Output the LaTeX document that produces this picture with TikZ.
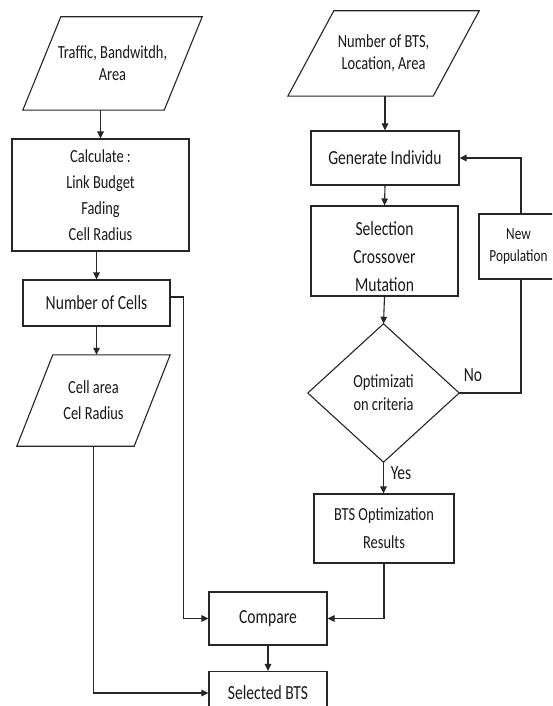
\documentclass[tikz,border=0pt]{standalone}
\usepackage{fontspec}
\newfontfamily\diafont[FakeStretch=0.78]{Carlito}
\usetikzlibrary{arrows.meta,calc}
\tikzset{
  line/.style={draw=black!85, line width=1.1pt},
  arr/.style={line, -{Triangle[length=7pt,width=6.5pt]}},
  bigtxt/.style={font=\diafont\fontsize{20}{28}\selectfont},
  smalltxt/.style={font=\diafont\fontsize{18.5}{26}\selectfont},
  boxnode/.style={line, rectangle, inner sep=0pt, align=center, text=black!90},
  ghost/.style={rectangle, inner sep=0pt, align=center, text=black!90},
}
\begin{document}
\begin{tikzpicture}[x=1pt,y=-1pt]
\clip (0,0) rectangle (552,706);
\fill[white] (0,0) rectangle (552,706);

% ---------- left column ----------
\node[ghost, font=\diafont\fontsize{18.5}{22}\selectfont, minimum width=179pt, minimum height=93pt] (inA) at (112.5,63.5) {Traffic, Bandwitdh,\\Area};
\draw[line] ([xshift=38pt]inA.north west) -- (inA.north east) -- ([xshift=-38pt]inA.south east) -- (inA.south west) -- cycle;

\node[boxnode, smalltxt, minimum width=177pt, minimum height=112pt] (calc) at (100.5,195) {Calculate :\\Link Budget\\Fading\\Cell Radius};
\node[boxnode, bigtxt, minimum width=147pt, minimum height=46pt] (cells) at (96.5,303) {Number of Cells};

\node[ghost, smalltxt, minimum width=153pt, minimum height=91pt] (cellarea) at (93.5,400.5) {Cell area\\Cel Radius};
\draw[line] ([xshift=36pt]cellarea.north west) -- (cellarea.north east) -- ([xshift=-36pt]cellarea.south east) -- (cellarea.south west) -- cycle;

\node[boxnode, bigtxt, minimum width=118pt, minimum height=53pt] (compare) at (268,618.5) {Compare};
\node[boxnode, bigtxt, minimum width=118pt, minimum height=43pt] (selbts) at (268,693) {Selected BTS};

% ---------- right column ----------
\node[ghost, font=\diafont\fontsize{18.5}{22}\selectfont, minimum width=191pt, minimum height=85pt] (inB) at (383.5,53.5) {Number of BTS,\\Location, Area};
\draw[line] ([xshift=46pt]inB.north west) -- (inB.north east) -- ([xshift=-46pt]inB.south east) -- (inB.south west) -- cycle;

\node[boxnode, bigtxt, minimum width=148pt, minimum height=54pt] (gen) at (385,158) {Generate Individu};
\node[boxnode, minimum width=147pt, minimum height=90pt] (sel) at (384.5,251) {};
\node[ghost, bigtxt] (selt) at (384.5,257) {Selection\\Crossover\\Mutation};

\node[ghost, font=\diafont\fontsize{18.5}{23}\selectfont, minimum width=151pt, minimum height=138pt] (dia) at (383.5,393) {Optimizati\\on criteria};
\draw[line] (dia.north) -- (dia.east) -- (dia.south) -- (dia.west) -- cycle;

\node[boxnode, font=\diafont\fontsize{18.5}{28}\selectfont, minimum width=140pt, minimum height=69pt] (bts) at (384,528.5) {BTS Optimization\\Results};
\node[boxnode, minimum width=84pt, minimum height=65pt] (newp) at (521,246.5) {};
\node[ghost, font=\diafont\fontsize{17}{22}\selectfont] (newpt) at (518.5,246.5) {New\\Population};

\node[ghost, bigtxt] (yes) at (401,473) {Yes};
\node[ghost, bigtxt] (no) at (473,375) {No};

% ---------- connectors ----------
\draw[arr] (calc.north |- inA.south) -- (calc.north);
\draw[arr] (cells.north |- calc.south) -- (cells.north);
\draw[arr] (cells.south) -- (cells.south |- cellarea.north);
\draw[arr] (cellarea.south) |- (selbts.west);
\draw[arr] ([yshift=6pt]cells.east) -- ++(13pt,0) |- (compare.west);
\draw[arr] (compare.south) -- (selbts.north);

\draw[arr] (gen.north |- inB.south) -- (gen.north);
\draw[arr] (gen.south) -- (sel.north);
\draw[arr] (sel.south) -- (dia.north);
\draw[arr] (dia.south) -- (dia.south |- bts.north);
\draw[line] (dia.east) -| (newp.south);
\draw[arr] (newp.north) |- (gen.east);
\draw[arr] (bts.south) |- (compare.east);
\end{tikzpicture}
\end{document}
